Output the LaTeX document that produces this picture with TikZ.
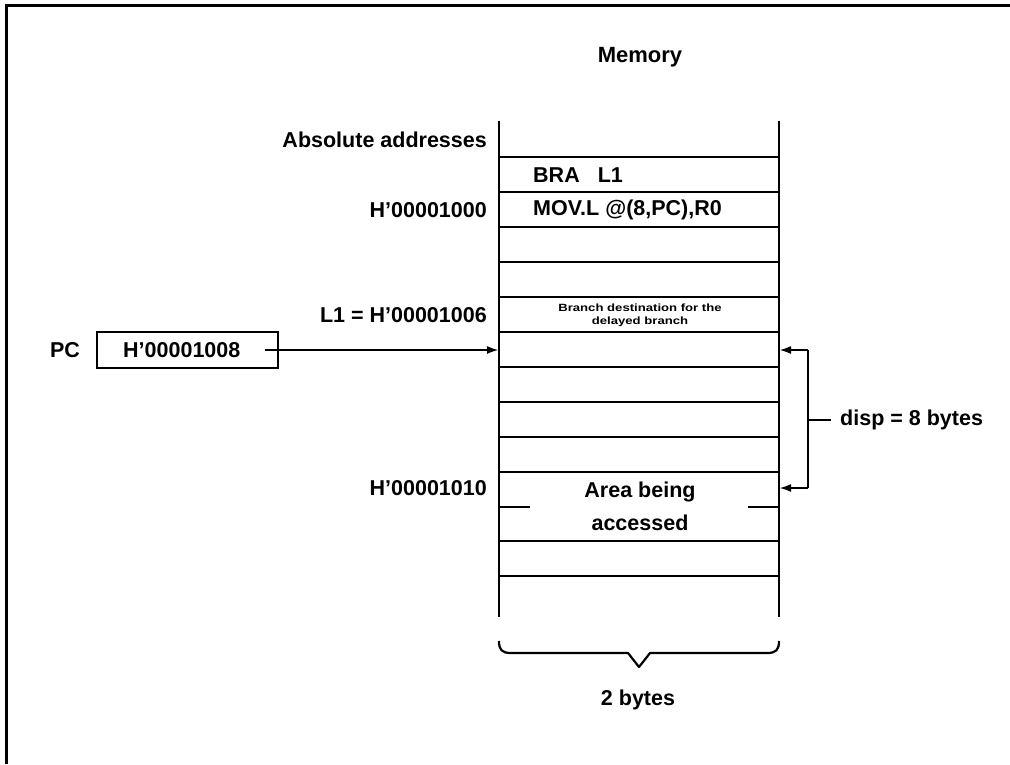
\documentclass[tikz,border=0pt]{standalone}
\usepackage{fontspec}
\setmainfont{Liberation Sans}
\usetikzlibrary{arrows.meta}
\begin{document}
\begin{tikzpicture}[x=1pt,y=-1pt,
  txt/.style={font=\bfseries\fontsize{21.5}{25}\selectfont, inner sep=0pt},
  small/.style={font=\bfseries\fontsize{10.5}{13}\selectfont, inner sep=0pt},
  mline/.style={line width=2.6pt},
  conn/.style={line width=2.2pt, -{Latex[length=12pt,width=8pt]}},
  plain/.style={line width=2.2pt}]
\useasboundingbox (0,0) rectangle (1010,764);
% frame
\draw[line width=3pt] (6,764) -- (6,5) -- (1010,5);
% memory
\draw[mline] (499,121) -- (499,617);
\draw[mline] (779,121) -- (779,617);
\foreach \y in {157,192,227,262,297,332,367,402,437,472,541,576}
  \draw[mline] (499,\y) -- (779,\y);
\draw[plain] (499,507) -- (530,507);
\draw[plain] (748,507) -- (779,507);
\coordinate (memL) at (499,350);
\coordinate (memR1) at (779,350);
\coordinate (memR2) at (779,488);
% labels
\node[txt, font=\bfseries\fontsize{22}{26}\selectfont] (mem) at (640,57) {Memory};
\node[txt, anchor=east] (abs) at (487,140) {Absolute addresses};
\node[txt, anchor=east] (a1000) at (487,210) {H'00001000};
\node[txt, anchor=east] (a1006) at (487,315) {L1 = H'00001006};
\node[txt, anchor=east] (a1010) at (487,488) {H'00001010};
\node[txt, anchor=west] (bra) at (533,175) {BRA\hspace{18pt}L1};
\node[txt, anchor=west] (mov) at (533,210) {MOV.L @(8,PC),R0};
\node[small] (bd1) at (640,308) {\scalebox{1.25}[1]{Branch destination for the}};
\node[small] (bd2) at (640,322) {\scalebox{1.25}[1]{delayed branch}};
\node[txt] (area1) at (640,492) {Area being};
\node[txt] (area2) at (640,523) {accessed};
% PC
\node[txt] (pc) at (65,350) {PC};
\node[draw, line width=2.2pt, minimum width=181pt, minimum height=36pt, inner sep=0pt] (pcbox) at (187.5,350) {};
\node[txt, anchor=west] (pcval) at (123,350) {H'00001008};
\coordinate (pcstart) at (265,350);
\draw[conn] (pcstart) -- (memL);
% disp bracket
\coordinate (d1) at (808,350);
\coordinate (d2) at (808,488);
\coordinate (dm) at (808,420);
\coordinate (dt) at (831,420);
\draw[conn] (d1) -- (memR1);
\draw[conn] (d2) -- (memR2);
\draw[plain] (d1) -- (d2);
\draw[plain] (dm) -- (dt);
\node[txt, anchor=west] (disp) at (840,420) {disp = 8 bytes};
% brace
\draw[line width=2.2pt, line join=round] (499,641) .. controls (499,650) and (502,653) .. (511,653) -- (628,653) -- (639,667) -- (650,653) -- (767,653) .. controls (776,653) and (779,650) .. (779,641);
\node[txt] (two) at (638,700) {2 bytes};
\end{tikzpicture}
\end{document}
